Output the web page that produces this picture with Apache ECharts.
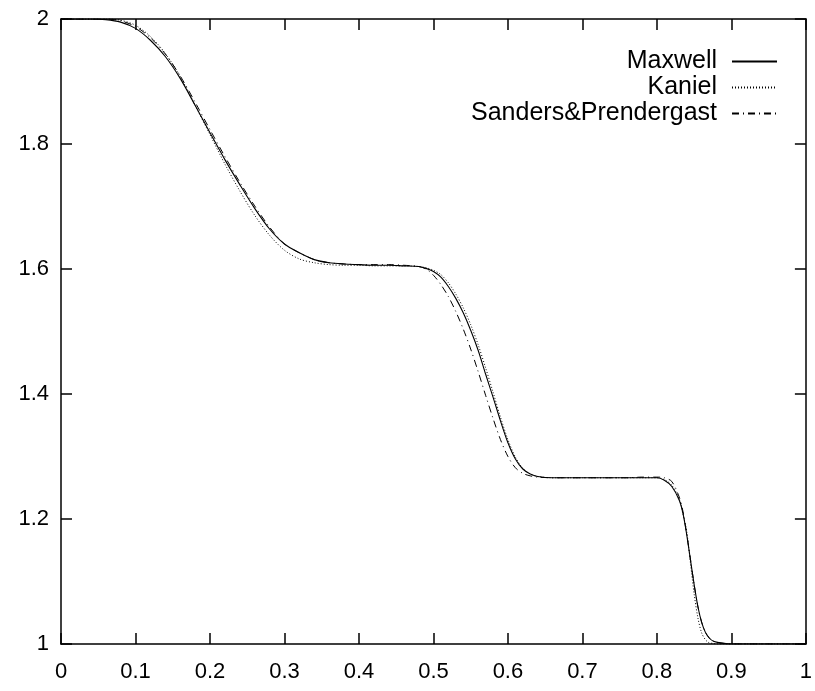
<!DOCTYPE html>
<html>
<head>
<meta charset="utf-8">
<script src="https://cdn.jsdelivr.net/npm/echarts@6/dist/echarts.min.js"></script>
<style>html,body{margin:0;padding:0;background:#fff;}#c{width:815px;height:691px;}</style>
</head>
<body>
<div id="c"></div>
<script>
var xs = [0,0.02,0.04,0.06,0.08,0.10,0.12,0.14,0.16,0.18,0.20,0.22,0.24,0.26,0.28,0.30,0.32,0.34,0.36,0.38,0.40,0.42,0.44,0.46,0.48,0.49,0.50,0.51,0.52,0.53,0.54,0.55,0.56,0.57,0.58,0.59,0.60,0.61,0.62,0.63,0.64,0.66,0.68,0.70,0.72,0.74,0.76,0.78,0.80,0.81,0.82,0.83,0.835,0.84,0.845,0.85,0.855,0.86,0.865,0.87,0.875,0.88,0.89,0.90,0.95,1.0];

var maxwell = [2.0,2.0,2.0,1.999,1.995,1.985,1.966,1.940,1.905,1.862,1.818,1.775,1.735,1.697,1.664,1.640,1.626,1.615,1.610,1.608,1.607,1.606,1.606,1.605,1.604,1.601,1.596,1.587,1.572,1.553,1.530,1.502,1.470,1.432,1.395,1.357,1.322,1.296,1.280,1.272,1.268,1.266,1.266,1.266,1.266,1.266,1.266,1.266,1.266,1.262,1.252,1.230,1.209,1.175,1.135,1.095,1.060,1.035,1.019,1.010,1.005,1.003,1.001,1.0,1.0,1.0];

var kaniel = [2.0,2.0,2.0,2.0,1.998,1.990,1.972,1.945,1.908,1.862,1.815,1.768,1.725,1.686,1.654,1.630,1.616,1.610,1.607,1.606,1.606,1.605,1.605,1.605,1.604,1.602,1.598,1.591,1.578,1.560,1.538,1.511,1.479,1.442,1.403,1.363,1.327,1.299,1.281,1.272,1.268,1.266,1.266,1.266,1.266,1.266,1.266,1.266,1.266,1.263,1.254,1.232,1.208,1.180,1.130,1.080,1.042,1.018,1.007,1.002,1.001,1.0,1.0,1.0,1.0,1.0];

var sanders = [2.0,2.0,2.0,2.0,1.997,1.988,1.970,1.944,1.909,1.867,1.823,1.780,1.739,1.701,1.667,1.640,1.626,1.615,1.610,1.608,1.607,1.607,1.607,1.606,1.604,1.600,1.590,1.575,1.556,1.532,1.504,1.472,1.436,1.398,1.361,1.327,1.300,1.282,1.273,1.269,1.267,1.266,1.266,1.266,1.266,1.266,1.266,1.267,1.267,1.266,1.260,1.235,1.212,1.176,1.136,1.095,1.060,1.035,1.019,1.010,1.005,1.003,1.001,1.0,1.0,1.0];

var seriesNames = ['Maxwell', 'Kaniel', 'Sanders&Prendergast'];

function pairs(ys) { return xs.map(function (x, i) { return [x, ys[i]]; }); }

var chart = echarts.init(document.getElementById('c'), null, {renderer: 'canvas'});
var font = 'Liberation Sans, Arial, Helvetica, sans-serif';
var axisLine = {show: true, onZero: false, lineStyle: {color: '#000', width: 1.5}};
var tick = {show: true, inside: true, length: 11, lineStyle: {color: '#000', width: 1.5}};

chart.setOption({
  animation: false,
  backgroundColor: '#fff',
  grid: {left: 61, top: 19, right: 9, bottom: 47, containLabel: false},
  legend: {
    orient: 'vertical', right: 32, top: 44, align: 'right',
    itemWidth: 45, itemHeight: 14, itemGap: 1,
    itemStyle: {color: 'rgba(0,0,0,0)', borderWidth: 0, opacity: 0},
    textStyle: {fontFamily: font, fontSize: 25, color: '#000', padding: [0, 10, 0, 0]},
    data: seriesNames
  },
  xAxis: [
    {type: 'value', min: 0, max: 1, interval: 0.1, position: 'bottom',
     axisLine: axisLine, axisTick: tick, splitLine: {show: false},
     axisLabel: {color: '#000', fontFamily: font, fontSize: 22, margin: 17}},
    {type: 'value', min: 0, max: 1, interval: 0.1, position: 'top',
     axisLine: axisLine, axisTick: tick, splitLine: {show: false}, axisLabel: {show: false}}
  ],
  yAxis: [
    {type: 'value', min: 1, max: 2, interval: 0.2, position: 'left',
     axisLine: axisLine, axisTick: tick, splitLine: {show: false},
     axisLabel: {color: '#000', fontFamily: font, fontSize: 22, margin: 12}},
    {type: 'value', min: 1, max: 2, interval: 0.2, position: 'right',
     axisLine: axisLine, axisTick: tick, splitLine: {show: false}, axisLabel: {show: false}}
  ],
  series: [
    {name: seriesNames[0], type: 'line', data: pairs(maxwell), symbol: 'none', smooth: 0.3,
     lineStyle: {color: '#000', width: 1.1, type: 'solid'}, itemStyle: {color: '#000'}},
    {name: seriesNames[1], type: 'line', data: pairs(kaniel), symbol: 'none', smooth: 0.3,
     lineStyle: {color: '#000', width: 1, type: [1, 2]}, itemStyle: {color: '#000'}},
    {name: seriesNames[2], type: 'line', data: pairs(sanders), symbol: 'none', smooth: 0.3,
     lineStyle: {color: '#000', width: 1, type: [7, 4, 1, 4]}, itemStyle: {color: '#000'}}
  ]
});
</script>
</body>
</html>
